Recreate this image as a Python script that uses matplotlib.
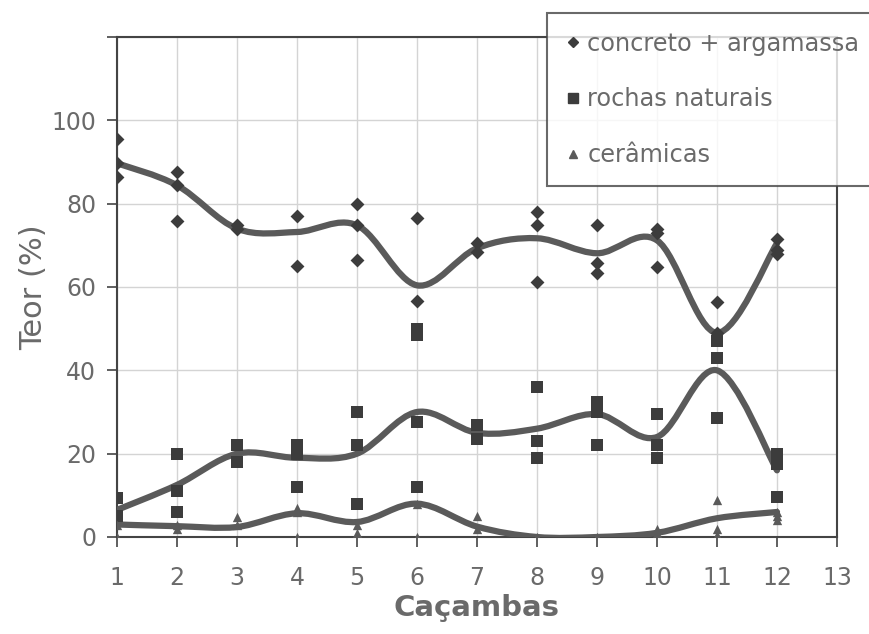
import matplotlib
matplotlib.use("Agg")
import matplotlib.pyplot as plt
import numpy as np
from matplotlib.path import Path
from matplotlib.patches import PathPatch
from matplotlib.lines import Line2D

plt.rcParams['font.family'] = ['DejaVu Sans']

# ---- data ----
cacambas = [1, 2, 3, 4, 5, 6, 7, 8, 9, 10, 11, 12]

concreto_x = [1, 1, 1, 2, 2, 2, 3, 3, 4, 4, 5, 5, 5, 6, 6, 7, 7, 8, 8, 8,
              9, 9, 9, 10, 10, 10, 11, 11, 12, 12, 12]
concreto_y = [95.5, 89.7, 86.3, 87.5, 84.4, 75.8, 75, 74, 77, 65, 80, 75, 66.5,
              76.5, 56.6, 70.5, 68.5, 78, 74.8, 61.2, 74.8, 65.7, 63.3,
              74, 73, 64.8, 56.4, 49, 71.5, 69, 68]
concreto_trend = [89.7, 84.4, 74, 73.2, 74.8, 60.4, 69.3, 71.7, 68.1, 71.2, 49.0, 70.5]

rochas_x = [1, 1, 2, 2, 2, 3, 3, 4, 4, 4, 5, 5, 5, 6, 6, 6, 6, 7, 7, 8, 8, 8,
            9, 9, 9, 10, 10, 10, 11, 11, 11, 12, 12, 12]
rochas_y = [9.4, 5, 20, 11, 6, 22, 18, 22, 20, 12, 30, 22, 8, 50, 48.5, 27.6, 12,
            27, 23.5, 36, 23, 19, 32.5, 30, 22, 29.5, 22, 19, 47, 43, 28.5,
            20, 17.5, 9.6]
rochas_trend = [6.5, 12.5, 20, 19, 20, 30, 25, 26, 29.5, 24, 40, 16]

ceramicas_x = [1, 1, 2, 2, 3, 3, 4, 4, 4, 5, 5, 5, 6, 6, 7, 7, 8, 9,
               10, 10, 10, 11, 11, 11, 12, 12, 12]
ceramicas_y = [3, 0, 3, 2, 4.8, 3, 7, 6, 0, 3, 1, 0, 8, 0, 5, 2, 0, 0,
               2, 1, 0, 9, 2, 0.5, 6, 5, 4]
ceramicas_trend = [3, 2.6, 2.4, 5.7, 3.6, 8, 2.5, 0, 0, 1, 4.5, 6]

series_labels = ["concreto + argamassa", "rochas naturais", "cerâmicas"]
x_ticks = list(range(1, 14))
y_ticks = [0, 20, 40, 60, 80, 100, 120]
y_ticklabels = ["0", "20", "40", "60", "80", "100", ""]

# ---- styling ----
mark_col = "#3c3c3c"
line_col = "#5a5a5a"
text_col = "#6a6a6a"

fig = plt.figure(figsize=(8.7, 6.34), dpi=100)
ax = fig.add_axes([117/870, 1-537/634, 720/870, 500/634])


def smooth_path(xs, ys):
    pts = np.column_stack([xs, ys]).astype(float)
    n = len(pts)
    verts = [pts[0]]
    codes = [Path.MOVETO]
    for i in range(n - 1):
        p0 = pts[i - 1] if i > 0 else pts[i]
        p1 = pts[i]
        p2 = pts[i + 1]
        p3 = pts[i + 2] if i + 2 < n else pts[i + 1]
        c1 = p1 + (p2 - p0) / 6.0
        c2 = p2 - (p3 - p1) / 6.0
        verts += [c1, c2, p2]
        codes += [Path.CURVE4] * 3
    return Path(verts, codes)


for trend in (concreto_trend, rochas_trend, ceramicas_trend):
    patch = PathPatch(smooth_path(cacambas, trend), facecolor="none",
                      edgecolor=line_col, lw=4.5, capstyle="round",
                      joinstyle="round", zorder=3)
    ax.add_patch(patch)

ax.scatter(concreto_x, concreto_y, marker="D", s=50, color=mark_col, zorder=4, linewidths=0)
ax.scatter(rochas_x, rochas_y, marker="s", s=85, color=mark_col, zorder=4, linewidths=0)
ax.scatter(ceramicas_x, ceramicas_y, marker="^", s=45, color="#5a5a5a", zorder=4, linewidths=0)

ax.set_xlim(1, 13)
ax.set_ylim(0, 120)
ax.set_xticks(x_ticks)
ax.set_yticks(y_ticks)
ax.set_yticklabels(y_ticklabels)
ax.grid(True, color="#d4d4d4", lw=1.0, zorder=0)
ax.set_axisbelow(True)
for s in ax.spines.values():
    s.set_color("#444444")
    s.set_linewidth(1.5)
ax.tick_params(axis="both", direction="out", length=7, width=1.2, color="#444444",
               labelsize=17, labelcolor=text_col)
ax.tick_params(axis="x", pad=14)
ax.tick_params(axis="y", pad=8)

ax.set_ylabel("Teor (%)", fontsize=22, color=text_col, labelpad=2)
ax.set_xlabel("Caçambas", fontsize=21, fontweight="bold", color=text_col, labelpad=3)

handles = [
    Line2D([], [], marker="D", ls="none", color=mark_col, markersize=5),
    Line2D([], [], marker="s", ls="none", color=mark_col, markersize=7),
    Line2D([], [], marker="^", ls="none", color="#5a5a5a", markersize=6),
]
leg = fig.legend(handles, series_labels, loc="upper left",
                 bbox_to_anchor=(547/870, 1-13/634), fontsize=17.3,
                 frameon=True, fancybox=False, edgecolor="#444444",
                 labelspacing=1.32, handlelength=0.6, handletextpad=0.3,
                 borderpad=0.78, borderaxespad=0)
leg.get_frame().set_linewidth(1.5)
for t in leg.get_texts():
    t.set_color(text_col)

fig.savefig("out.png", dpi=100)
